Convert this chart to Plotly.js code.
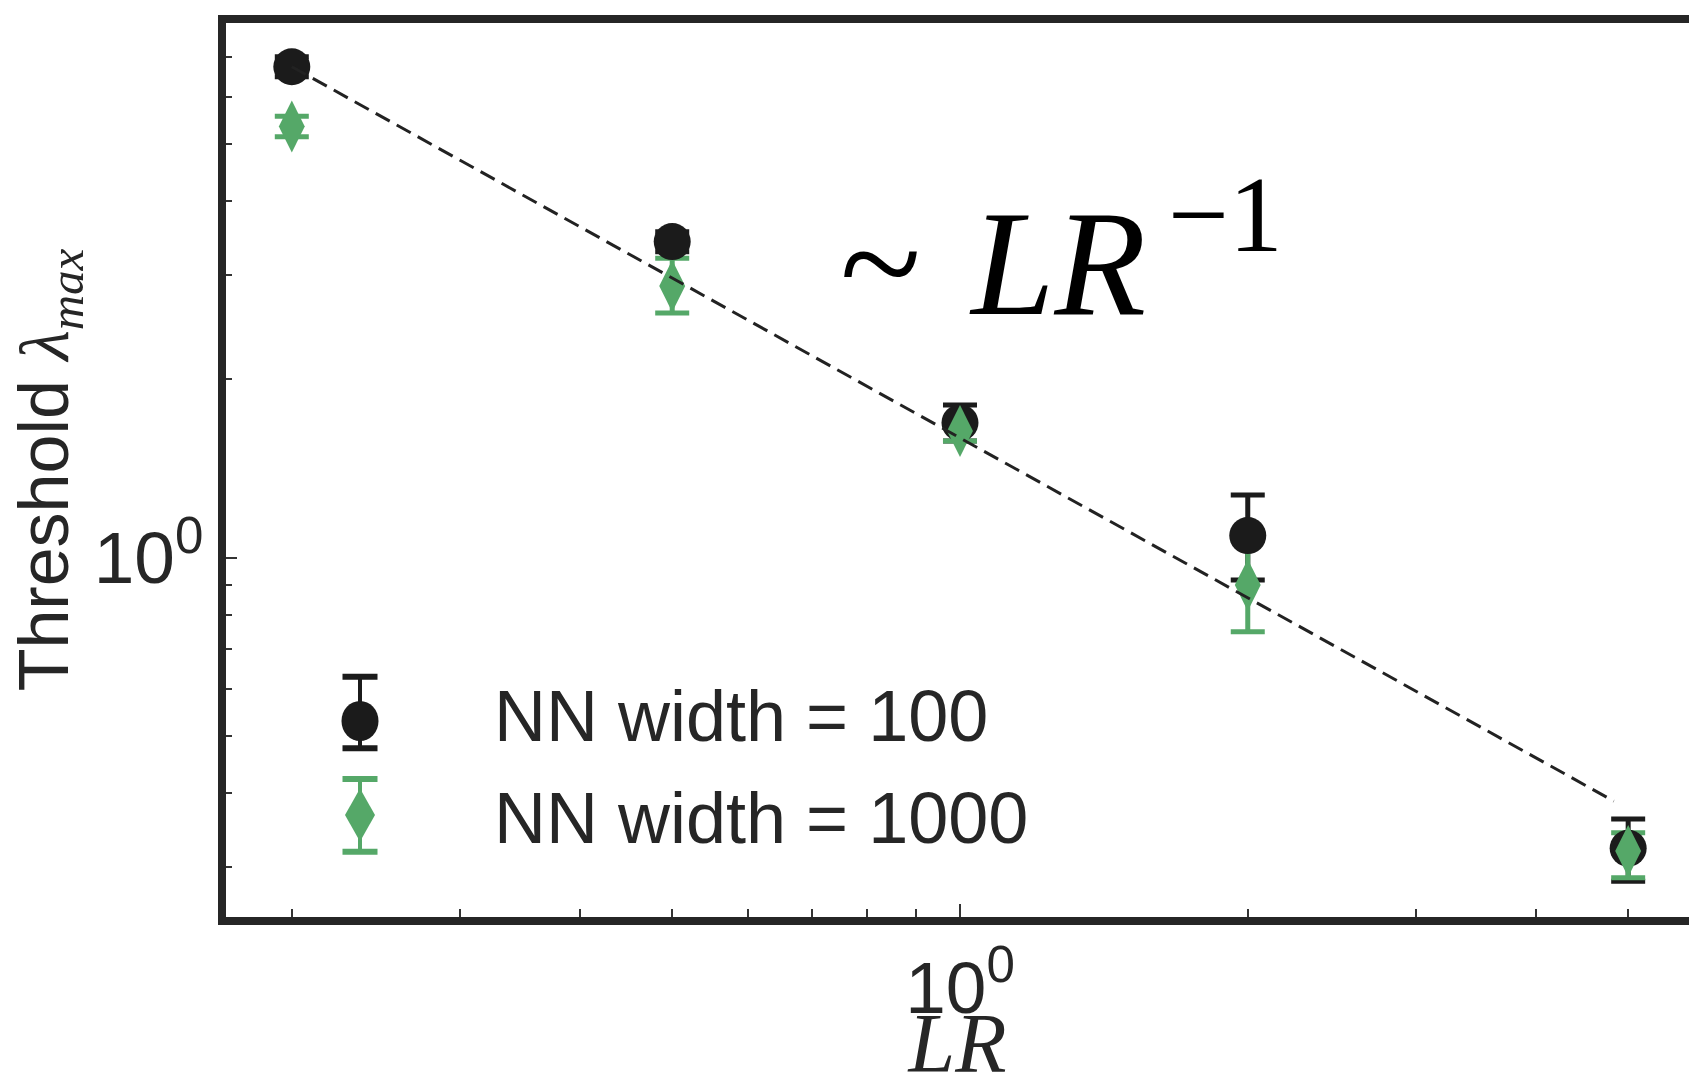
<!DOCTYPE html>
<html><head><meta charset="utf-8">
<script src="https://cdn.plot.ly/plotly-3.0.1.min.js"></script>
<style>html,body{margin:0;padding:0;background:#fff;overflow:hidden}</style>
</head><body><div id="chart" style="width:1689px;height:1090px"></div>
<script>
// ---- data ----
const lr = [0.2, 0.5, 1, 2, 5];
const w100 = [6.75, 3.42, 1.69, 1.09, 0.323];
const w100Upper = [7.02, 3.554, 1.811, 1.276, 0.362];
const w100Lower = [6.494, 3.288, 1.575, 0.917, 0.284];
const w1000 = [5.35, 2.877, 1.637, 0.899, 0.3196];
const w1000Upper = [5.57, 3.206, 1.708, 1.071, 0.343];
const w1000Lower = [5.14, 2.59, 1.575, 0.750, 0.288];
const fitX = [0.2, 4.83];
const fitY = [6.75, 0.388];
const seriesNames = ['NN width = 100', 'NN width = 1000'];
const xTickVals = [1], xTickText = ['10<sup>0</sup>'];
const yTickVals = [1], yTickText = ['10<sup>0</sup>'];
const xMinorVals = [0.2, 0.3, 0.4, 0.5, 0.6, 0.7, 0.8, 0.9, 2, 3, 4, 5];
const yMinorVals = [0.3, 0.4, 0.5, 0.6, 0.7, 0.8, 0.9, 2, 3, 4, 5, 6, 7];
const annoText = '~ \u200A<i>LR</i><sup><span style="font-size:108px">\u2009−1</span></sup>';

// ---- style ----
const BLACK = '#1b1b1b', GREEN = '#55a868', TXT = '#262626';
const SANS = 'Liberation Sans, Arial, Helvetica, sans-serif';
const SERIF = 'Liberation Serif, Times New Roman, serif';
const W = 1689, H = 1090, L = 226, T = 23, PW = 1463, PH = 894;
const px = x => (x - L) / PW, py = y => (T + PH - y) / PH;

const plus = (u, v) => u.map((a, i) => a - v[i]);
const minus = (l, v) => v.map((a, i) => a - l[i]);

const traces = [
  {x: lr, y: w100, type: 'scatter', mode: 'markers', showlegend: false, hoverinfo: 'skip',
   marker: {size: 1, opacity: 0, color: BLACK},
   error_y: {type: 'data', symmetric: false, array: plus(w100Upper, w100), arrayminus: minus(w100Lower, w100),
             color: BLACK, thickness: 5, width: 17}},
  {x: lr, y: w1000, type: 'scatter', mode: 'markers', showlegend: false, hoverinfo: 'skip',
   marker: {size: 1, opacity: 0, color: GREEN},
   error_y: {type: 'data', symmetric: false, array: plus(w1000Upper, w1000), arrayminus: minus(w1000Lower, w1000),
             color: GREEN, thickness: 5, width: 17}},
  {x: lr, y: w100, type: 'scatter', mode: 'markers', name: seriesNames[0], showlegend: false,
   marker: {symbol: 'circle', size: 37, color: BLACK, line: {width: 0}}},
  {x: lr, y: w1000, type: 'scatter', mode: 'markers', name: seriesNames[1], showlegend: false,
   marker: {symbol: 'diamond-tall', size: 37, color: GREEN, line: {width: 0}}},
  {x: fitX, y: fitY, type: 'scatter', mode: 'lines', showlegend: false, hoverinfo: 'skip',
   line: {color: '#222', width: 3, dash: '16px,8px'}}
];

// legend keys (drawn in paper coordinates)
function legendKey(cx, cy, top, bot, color, kind, rw, rh) {
  const s = [];
  s.push({type: 'line', xref: 'paper', yref: 'paper', x0: px(cx), x1: px(cx), y0: py(top), y1: py(bot),
          line: {color: color, width: 4}});
  [top, bot].forEach(yy => s.push({type: 'line', xref: 'paper', yref: 'paper', x0: px(cx - 17.5), x1: px(cx + 17.5),
          y0: py(yy), y1: py(yy), line: {color: color, width: 6}}));
  if (kind === 'circle') {
    s.push({type: 'circle', xref: 'paper', yref: 'paper', x0: px(cx - rw), x1: px(cx + rw), y0: py(cy + rh), y1: py(cy - rh),
            fillcolor: color, line: {width: 0}});
  } else {
    s.push({type: 'path', xref: 'paper', yref: 'paper',
            path: `M${px(cx)},${py(cy - rh)} L${px(cx + rw)},${py(cy)} L${px(cx)},${py(cy + rh)} L${px(cx - rw)},${py(cy)} Z`,
            fillcolor: color, line: {width: 0}});
  }
  return s;
}
const shapes = [].concat(
  legendKey(360, 721, 676.7, 748.3, BLACK, 'circle', 18.5, 20),
  legendKey(360, 815, 779, 851.7, GREEN, 'diamond', 15, 26.5)
);

const annotations = [
  {xref: 'paper', yref: 'paper', x: px(492), y: py(716), xanchor: 'left', yanchor: 'middle', showarrow: false,
   text: seriesNames[0], font: {family: SANS, size: 72, color: TXT}},
  {xref: 'paper', yref: 'paper', x: px(492), y: py(817.5), xanchor: 'left', yanchor: 'middle', showarrow: false,
   text: seriesNames[1], font: {family: SANS, size: 72, color: TXT}},
  {xref: 'paper', yref: 'paper', x: px(838), y: py(251), xanchor: 'left', yanchor: 'middle', showarrow: false,
   text: annoText, font: {family: SERIF, size: 150, color: '#000'}}
];

const axisCommon = {
  type: 'log', showline: true, linewidth: 8, linecolor: TXT, mirror: true,
  ticks: 'inside', tickwidth: 2, tickcolor: '#333', tickmode: 'array',
  showgrid: false, zeroline: false, automargin: false,
  tickfont: {family: SANS, size: 73, color: TXT}
};

const layout = {
  width: W, height: H, paper_bgcolor: '#fff', plot_bgcolor: '#fff',
  margin: {l: L, r: 0, t: T, b: H - T - PH, pad: 0},
  showlegend: false,
  xaxis: Object.assign({}, axisCommon, {
    range: [-0.7678, 0.7626], ticklen: 13, tickvals: xTickVals, ticktext: xTickText,
    minor: {tickmode: 'array', tickvals: xMinorVals, ticks: 'inside', ticklen: 8, tickwidth: 2, tickcolor: '#333', showgrid: false},
    title: {text: '<i>LR</i>', font: {family: SERIF, size: 84, color: TXT}, standoff: 30}
  }),
  yaxis: Object.assign({}, axisCommon, {
    range: [-0.6069, 0.9032], ticklen: 11, tickvals: yTickVals, ticktext: yTickText, mirror: false,
    minor: {tickmode: 'array', tickvals: yMinorVals, ticks: 'inside', ticklen: 6, tickwidth: 2, tickcolor: '#333', showgrid: false},
    title: {text: 'Threshold <span style="font-family:Liberation Serif"><i>λ</i><sub><i>max</i></sub></span>',
            font: {family: SANS, size: 70, color: TXT}, standoff: 0}
  }),
  shapes: shapes,
  annotations: annotations
};

Plotly.newPlot('chart', traces, layout, {staticPlot: true, displayModeBar: false});
</script></body></html>
